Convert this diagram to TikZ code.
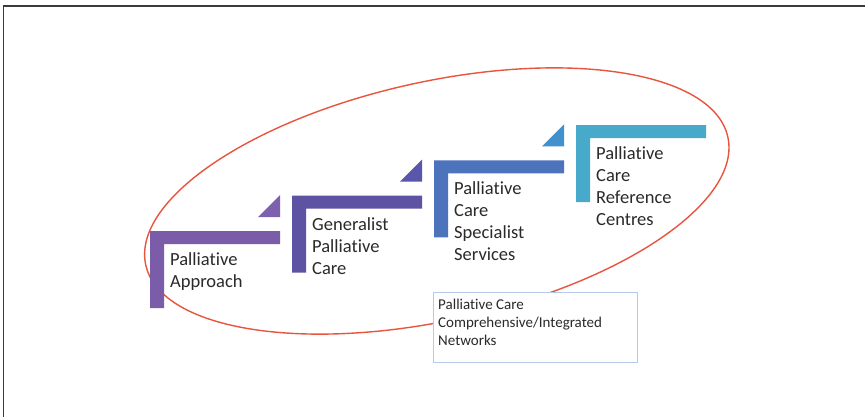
\documentclass[tikz,border=0pt]{standalone}
\usepackage{fontspec}
\setmainfont{Carlito}[Ligatures={NoCommon}]
\definecolor{stepA}{HTML}{7B5CA8}
\definecolor{triA}{HTML}{7D60AE}
\definecolor{stepB}{HTML}{5E52A2}
\definecolor{triB}{HTML}{5A56AB}
\definecolor{stepC}{HTML}{4E73BD}
\definecolor{triC}{HTML}{4290CC}
\definecolor{stepD}{HTML}{48AACB}
\definecolor{ellred}{HTML}{E8553E}
\definecolor{txtgray}{HTML}{2A2A2A}
\definecolor{boxblue}{HTML}{B8C8E8}
\definecolor{framegray}{HTML}{3A3A3A}
\tikzset{
  steplabel/.style={anchor=north west, inner sep=0pt, align=left, text=txtgray,
    font=\fontsize{18.5}{22}\selectfont},
  netbox/.style={draw=boxblue, fill=white, line width=1pt, anchor=north west,
    minimum width=204pt, minimum height=70pt, inner sep=0pt},
  netlabel/.style={anchor=north west, inner sep=0pt, align=left, text=txtgray,
    font=\fontsize{15}{18.3}\selectfont}
}
\begin{document}
\begin{tikzpicture}[x=1pt,y=-1pt]
\useasboundingbox (0,0) rectangle (865,417);
\fill[white] (0,0) rectangle (865,417);
% frame
\draw[framegray, line width=1.6pt] (3.5,417) -- (3.5,5.8) -- (865,5.8);
% ellipse
\draw[ellred, line width=1.4pt, rotate around={12.4:(436.8,201)}] (436.8,201) ellipse [x radius=298pt, y radius=119.5pt];
% step 1
\fill[stepA] (150,308) -- (150,231) -- (280,231) -- (280,244) -- (164,244) -- (164,308) -- cycle;
\fill[triA] (258,217) -- (280,217) -- (280,195) -- cycle;
% step 2
\fill[stepB] (292,272.7) -- (292,195.7) -- (422,195.7) -- (422,208.7) -- (306,208.7) -- (306,272.7) -- cycle;
\fill[triB] (400,181.7) -- (422,181.7) -- (422,159.7) -- cycle;
% step 3
\fill[stepC] (434,237.4) -- (434,160.4) -- (564,160.4) -- (564,173.4) -- (448,173.4) -- (448,237.4) -- cycle;
\fill[triC] (542,146.4) -- (564,146.4) -- (564,124.4) -- cycle;
% step 4
\fill[stepD] (576,202.1) -- (576,125.1) -- (706,125.1) -- (706,138.1) -- (590,138.1) -- (590,202.1) -- cycle;
% labels
\node[steplabel] (s1) at (170,252.5) {Palliative\\Approach};
\node[steplabel] (s2) at (312,217.2) {Generalist\\Palliative\\Care};
\node[steplabel] (s3) at (454,181.9) {Palliative\\Care\\Specialist\\Services};
\node[steplabel] (s4) at (596,146.6) {Palliative\\Care\\Reference\\Centres};
% network box
\node[netbox] (net) at (433,292) {};
\node[netlabel] (netl) at ([xshift=5pt,yshift=-6.5pt]net.north west) {Palliative Care\\Comprehensive/Integrated\\Networks};
\end{tikzpicture}
\end{document}
